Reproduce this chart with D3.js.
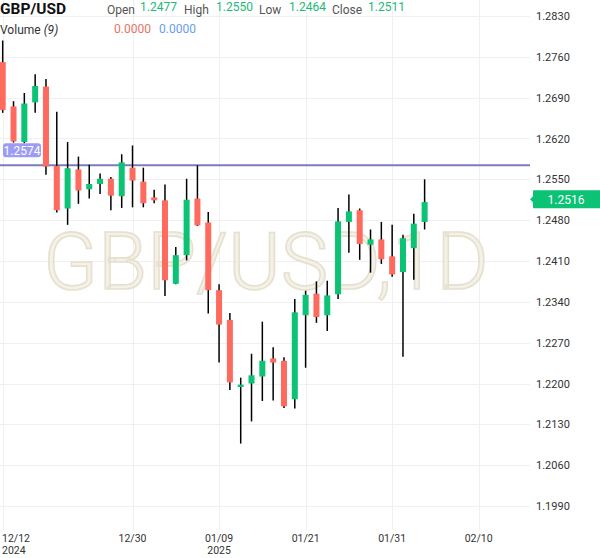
<!DOCTYPE html>
<html lang="en">
<head>
    <meta charset="UTF-8">
    <title>GBP/USD 1D</title>
    <script src="https://cdn.jsdelivr.net/npm/d3@7"></script>
    <style>
        body { margin: 0; background: #fff; }
        svg { display: block; font-family: Roboto, "Noto Sans", sans-serif; }
    </style>
</head>
<body>
<svg width="600" height="558"></svg>
<script>
    // daily candles, 12/12/2024 .. 02/05/2025
    var dates  = ["12/12","12/13","12/16","12/17","12/18","12/19","12/20","12/23","12/24","12/25",
                  "12/26","12/27","12/30","12/31","01/01","01/02","01/03","01/06","01/07","01/08",
                  "01/09","01/10","01/13","01/14","01/15","01/16","01/17","01/20","01/21","01/22",
                  "01/23","01/24","01/27","01/28","01/29","01/30","01/31","02/03","02/04","02/05"];
    var opens  = [1.2751,1.2675,1.2614,1.2682,1.2709,1.2573,1.2500,1.2567,1.2533,1.2542,
                  1.2551,1.2521,1.2570,1.2546,1.2519,1.2514,1.2371,1.2420,1.2517,1.2476,
                  1.2360,1.2309,1.2194,1.2200,1.2212,1.2243,1.2239,1.2173,1.2317,1.2354,
                  1.2317,1.2353,1.2477,1.2497,1.2438,1.2447,1.2418,1.2391,1.2432,1.2477];
    var highs  = [1.2788,1.2684,1.2698,1.2730,1.2722,1.2666,1.2614,1.2589,1.2575,1.2560,
                  1.2554,1.2593,1.2608,1.2570,1.2532,1.2541,1.2434,1.2551,1.2574,1.2494,
                  1.2370,1.2321,1.2210,1.2251,1.2306,1.2262,1.2245,1.2345,1.2359,1.2375,
                  1.2376,1.2501,1.2524,1.2500,1.2464,1.2477,1.2472,1.2455,1.2491,1.2550];
    var lows   = [1.2664,1.2613,1.2612,1.2664,1.2558,1.2493,1.2472,1.2508,1.2517,1.2525,
                  1.2497,1.2501,1.2502,1.2502,1.2509,1.2350,1.2370,1.2411,1.2470,1.2320,
                  1.2236,1.2189,1.2097,1.2135,1.2170,1.2171,1.2158,1.2157,1.2227,1.2304,
                  1.2290,1.2345,1.2424,1.2412,1.2390,1.2405,1.2383,1.2246,1.2378,1.2464];
    var closes = [1.2669,1.2615,1.2680,1.2710,1.2572,1.2497,1.2569,1.2531,1.2542,1.2551,
                  1.2522,1.2579,1.2548,1.2509,1.2514,1.2377,1.2420,1.2515,1.2471,1.2360,
                  1.2301,1.2202,1.2198,1.2214,1.2239,1.2236,1.2161,1.2322,1.2352,1.2314,
                  1.2351,1.2478,1.2495,1.2439,1.2447,1.2413,1.2387,1.2449,1.2474,1.2511];

    // x axis ticks (bar index) and labels
    var tickIdx    = [0, 12, 20, 28, 36, 44];
    var tickLabels = ["12/12", "12/30", "01/09", "01/21", "01/31", "02/10"];
    var tickYears  = ["2024", "", "2025", "", "", ""];

    // price axis
    var priceTicks = [1.1990,1.2060,1.2130,1.2200,1.2270,1.2340,1.2410,1.2480,1.2550,1.2620,1.2690,1.2760,1.2830];
    var hLine = 1.2574;
    var lastPrice = 1.2516;

    var plotRight = 530, plotBottom = 530;
    var green = "#0bc275", red = "#fe6a5e";

    var svg = d3.select("svg");

    var x = d3.scaleLinear().domain([0, 44]).range([2.7, 478.7]);
    var y = d3.scaleLinear().domain([1.1990, 1.2830]).range([506, 16]);
    var bodyW = 6;

    var candles = dates.map(function(d, i) {
        return { date: d, i: i, o: opens[i], h: highs[i], l: lows[i], c: closes[i] };
    });

    // grid
    var grid = svg.append("g");
    grid.selectAll("line.h")
        .data(priceTicks)
        .enter().append("line")
        .attr("x1", 0).attr("x2", plotRight)
        .attr("y1", function(d) { return Math.round(y(d)) + 0.5; })
        .attr("y2", function(d) { return Math.round(y(d)) + 0.5; })
        .attr("stroke", "#f0f0f0");
    grid.selectAll("line.v")
        .data(tickIdx)
        .enter().append("line")
        .attr("y1", 0).attr("y2", plotBottom)
        .attr("x1", function(d) { return Math.round(x(d)) + 0.5; })
        .attr("x2", function(d) { return Math.round(x(d)) + 0.5; })
        .attr("stroke", "#f0f0f0");

    // watermark
    svg.append("text")
        .attr("x", 266).attr("y", 289)
        .attr("text-anchor", "middle")
        .style("font-size", "80px")
        .style("font-weight", 300)
        .attr("fill", "#f3f0e6")
        .attr("stroke", "#e4ddc9")
        .attr("stroke-width", 1.6)
        .attr("opacity", 0.9)
        .text("GBP/USD,1D");

    // horizontal line
    svg.append("line")
        .attr("x1", 0).attr("x2", plotRight)
        .attr("y1", y(hLine)).attr("y2", y(hLine))
        .attr("stroke", "#7b7bbd").attr("stroke-width", 2);

    // candles
    var cell = svg.selectAll("g.candle")
        .data(candles)
        .enter().append("g")
        .attr("class", "candle");
    cell.append("line")
        .attr("x1", function(d) { return x(d.i); })
        .attr("x2", function(d) { return x(d.i); })
        .attr("y1", function(d) { return y(d.h); })
        .attr("y2", function(d) { return y(d.l); })
        .attr("stroke", "#000").attr("stroke-width", 1.5);
    cell.append("rect")
        .attr("x", function(d) { return x(d.i) - bodyW / 2; })
        .attr("width", bodyW)
        .attr("y", function(d) { return y(Math.max(d.o, d.c)); })
        .attr("height", function(d) { return Math.max(2, Math.abs(y(d.o) - y(d.c))); })
        .attr("fill", function(d) { return d.c >= d.o ? green : red; });

    // line label on the left
    var hl = svg.append("g").attr("transform", "translate(3," + (y(hLine) - 22) + ")");
    hl.append("rect").attr("width", 38).attr("height", 14).attr("rx", 3).attr("fill", "#9d9cf4");
    hl.append("text").attr("x", 19).attr("y", 11.5).attr("text-anchor", "middle")
        .attr("fill", "#fff").style("font-size", "12px").text(d3.format(".4f")(hLine));

    // price axis
    var yAxis = svg.append("g");
    yAxis.selectAll("text")
        .data(priceTicks)
        .enter().append("text")
        .attr("x", 536)
        .attr("y", function(d) { return y(d) + 4; })
        .attr("fill", "#333")
        .style("font-size", "11px")
        .text(function(d) { return d3.format(".4f")(d); });

    // last price tag
    var tag = svg.append("g").attr("transform", "translate(530," + y(lastPrice) + ")");
    tag.append("path")
        .attr("d", "M0,0 L3,-3 L3,-8 Q3,-9 4,-9 L600,-9 L600,9 L4,9 Q3,9 3,8 L3,3 Z")
        .attr("fill", green);
    tag.append("text").attr("x", 36).attr("y", 4.5).attr("text-anchor", "middle")
        .attr("fill", "#fff").style("font-size", "12px").text(d3.format(".4f")(lastPrice));

    // x axis labels (date over year)
    var xAxis = svg.append("g");
    tickIdx.forEach(function(t, k) {
        var anchor = k === 0 ? "start" : "middle";
        var tx = k === 0 ? 2 : x(t);
        xAxis.append("text").attr("x", tx).attr("y", 542)
            .attr("text-anchor", anchor).attr("fill", "#333")
            .style("font-size", "10.5px").text(tickLabels[k]);
        if (tickYears[k]) {
            xAxis.append("text").attr("x", tx).attr("y", 553.5)
                .attr("text-anchor", anchor).attr("fill", "#333")
                .style("font-size", "10.5px").text(tickYears[k]);
        }
    });

    // header legend
    var last = candles[candles.length - 1];
    svg.append("text").attr("x", 0).attr("y", 14)
        .style("font-size", "15.5px").style("font-weight", 700).attr("fill", "#111")
        .text("GBP/USD");
    var legend = [
        { label: "Open",  lx: 107, vx: 140, v: last.o },
        { label: "High",  lx: 184, vx: 216, v: last.h },
        { label: "Low",   lx: 259, vx: 289, v: last.l },
        { label: "Close", lx: 332, vx: 368, v: last.c }
    ];
    legend.forEach(function(d) {
        svg.append("text").attr("x", d.lx).attr("y", 14)
            .style("font-size", "12px").attr("fill", "#555").text(d.label);
        svg.append("text").attr("x", d.vx).attr("y", 11)
            .style("font-size", "12px").attr("fill", "#22b978").text(d3.format(".4f")(d.v));
    });
    var vol = svg.append("text").attr("x", 0).attr("y", 34)
        .style("font-size", "12px").attr("fill", "#333");
    vol.append("tspan").text("Volume ");
    vol.append("tspan").style("font-style", "italic").text("(9)");
    svg.append("text").attr("x", 114).attr("y", 33)
        .style("font-size", "12px").attr("fill", "#e57368").text("0.0000");
    svg.append("text").attr("x", 159).attr("y", 33)
        .style("font-size", "12px").attr("fill", "#6b9cf0").text("0.0000");
</script>
</body>
</html>
